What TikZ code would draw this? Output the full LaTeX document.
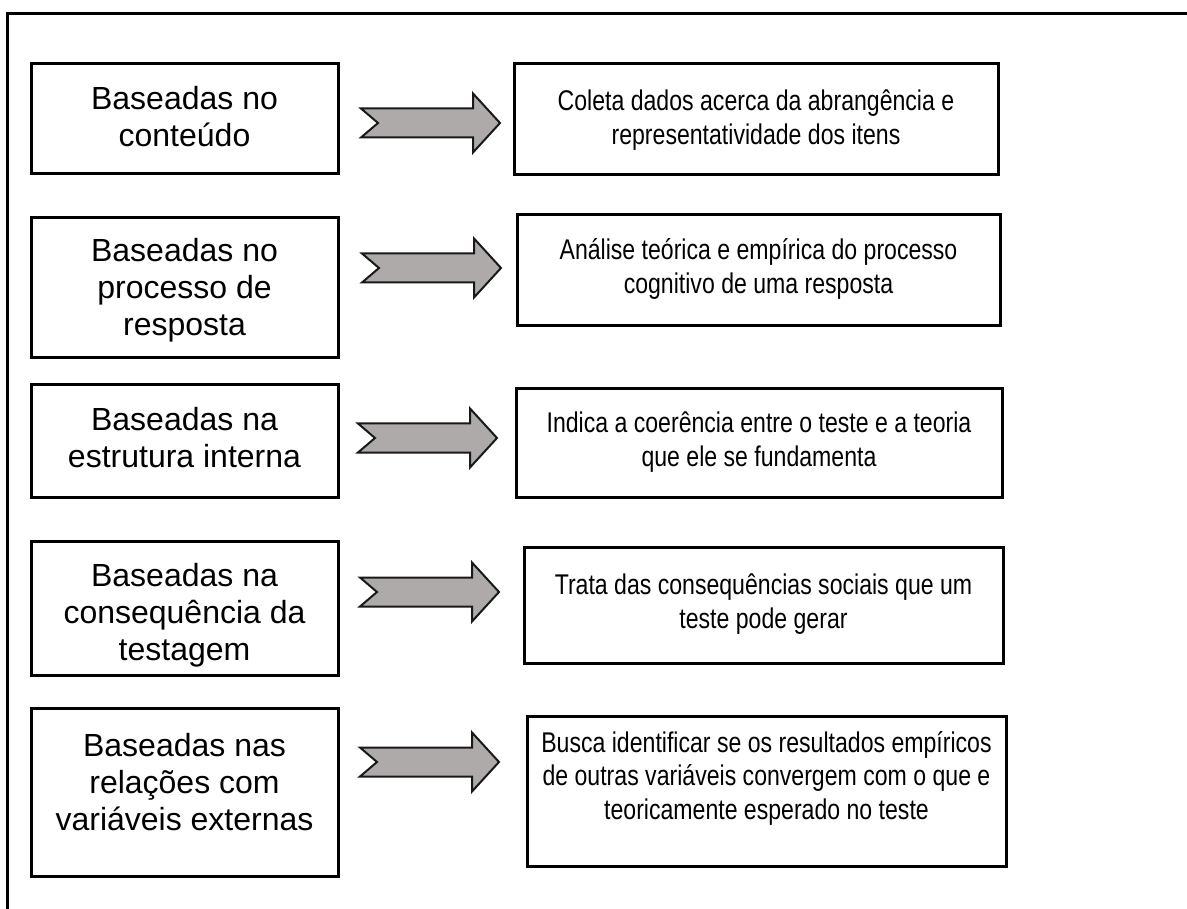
\documentclass[tikz,border=0pt]{standalone}
\usepackage{fontspec}
\setmainfont{Liberation Sans}
\newfontfamily\narrowfont[FakeStretch=0.81]{Liberation Sans}
\definecolor{arrowgray}{RGB}{174,170,170}
\definecolor{edgedark}{RGB}{25,25,25}
\begin{document}
\begin{tikzpicture}[x=1pt,y=-1pt,
  lbox/.style={draw=black,line width=3pt,inner sep=0pt},
  rbox/.style={draw=black,line width=3pt,inner sep=0pt},
  ltext/.style={align=center,font=\fontsize{32}{37}\selectfont,inner sep=0pt},
  rtext/.style={align=center,font=\narrowfont\fontsize{28.5}{33.5}\selectfont,inner sep=0pt},
  frame/.style={draw=black,line width=3pt},
  blockarrow/.pic={\draw[fill=arrowgray,draw=edgedark,line width=2pt,line join=miter]
     (0,-14.5) -- (112,-14.5) -- (112,-29.5) -- (139,0) -- (112,29.5) -- (112,14.5) -- (0,14.5) -- (17,0) -- cycle;}
]
\useasboundingbox (0,0) rectangle (1187,909);
\draw[frame] (7.5,912) -- (7.5,13.5) -- (1190,13.5);

% left boxes
\node[lbox,minimum width=307,minimum height=110] (L1) at (184.5,119) {};
\node[lbox,minimum width=307,minimum height=140] (L2) at (184.5,288) {};
\node[lbox,minimum width=307,minimum height=112] (L3) at (184.5,441) {};
\node[lbox,minimum width=307,minimum height=134] (L4) at (184.5,608) {};
\node[lbox,minimum width=307,minimum height=168] (L5) at (184.5,792) {};

\node[ltext] (L1t) at (184.5,117) {Baseadas no\\conteúdo};
\node[ltext] (L2t) at (184.5,290) {Baseadas no\\processo de\\resposta};
\node[ltext] (L3t) at (184.5,438) {Baseadas na\\estrutura interna};
\node[ltext] (L4t) at (184.5,615) {Baseadas na\\consequência da\\testagem};
\node[ltext] (L5t) at (184.5,782) {Baseadas nas\\relações com\\variáveis externas};

% right boxes
\node[rbox,minimum width=484,minimum height=111] (R1) at (756,119.5) {};
\node[rbox,minimum width=483,minimum height=111] (R2) at (758.5,270.5) {};
\node[rbox,minimum width=486,minimum height=108] (R3) at (759,443) {};
\node[rbox,minimum width=479,minimum height=116] (R4) at (763.5,605) {};
\node[rbox,minimum width=479,minimum height=150] (R5) at (766.5,791) {};

\node[rtext] (R1t) at (756,120) {Coleta dados acerca da abrangência e\\representatividade dos itens};
\node[rtext] (R2t) at (758.5,269) {Análise teórica e empírica do processo\\cognitivo de uma resposta};
\node[rtext] (R3t) at (759,442) {Indica a coerência entre o teste e a teoria\\que ele se fundamenta};
\node[rtext] (R4t) at (763.5,604) {Trata das consequências sociais que um\\teste pode gerar};
\node[rtext] (R5t) at (766.5,778) {Busca identificar se os resultados empíricos\\de outras variáveis convergem com o que e\\teoricamente esperado no teste};

% block arrows
\pic at (361,123) {blockarrow};
\pic at (362,268) {blockarrow};
\pic at (358,438) {blockarrow};
\pic at (360,592) {blockarrow};
\pic at (360,762) {blockarrow};
\end{tikzpicture}
\end{document}
